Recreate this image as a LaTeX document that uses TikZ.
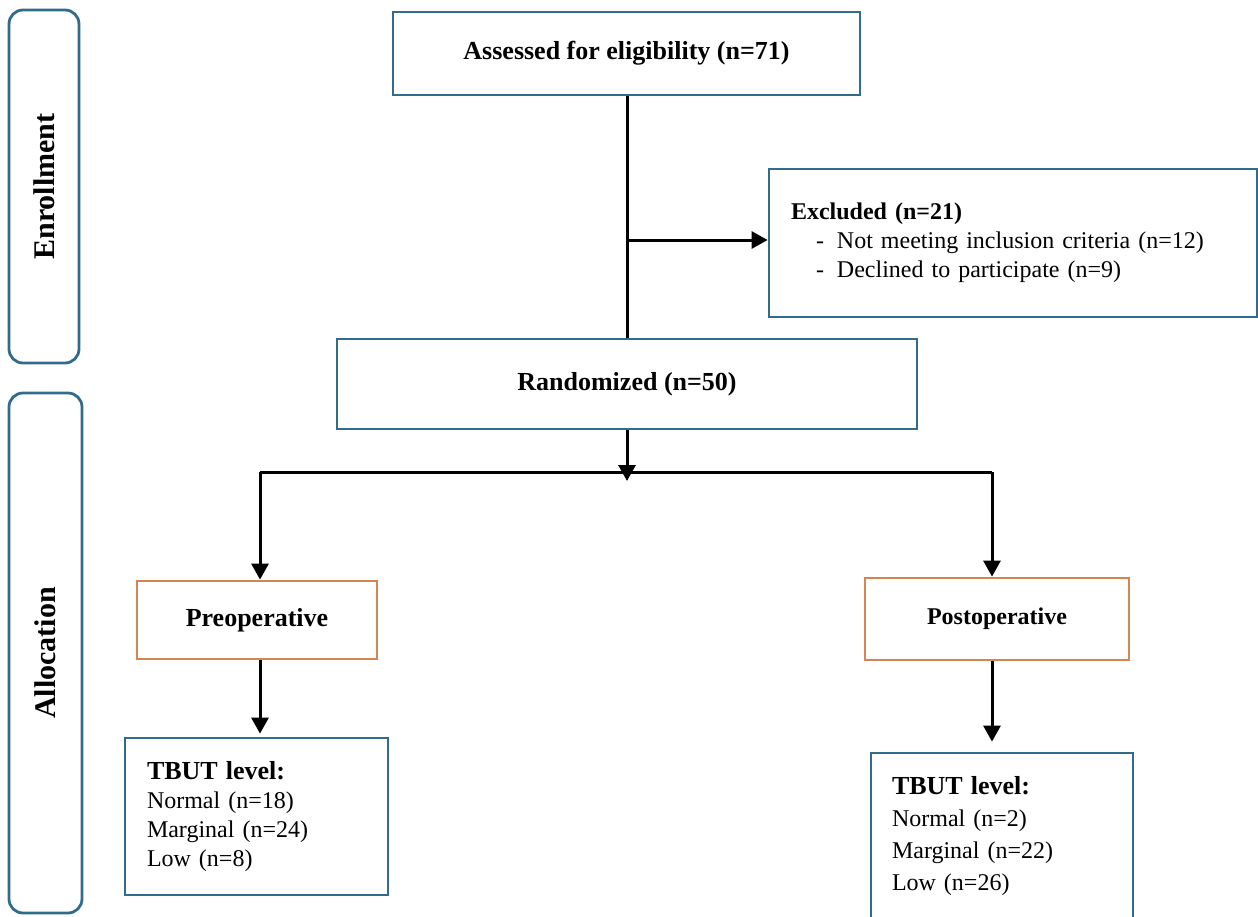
\documentclass[tikz,border=0pt]{standalone}
\usepackage{fontspec}
\setmainfont{Liberation Serif}
\usetikzlibrary{arrows.meta}
\definecolor{boxblue}{RGB}{49,108,140}
\definecolor{boxorange}{RGB}{214,132,82}

\begin{document}
\begin{tikzpicture}[x=1pt,y=-1pt,
  box/.style={draw=boxblue,line width=2.8pt,align=center,inner sep=0pt},
  armbox/.style={draw=boxorange,line width=2.8pt,align=center,inner sep=0pt},
  phase/.style={draw=boxblue,line width=2.8pt,rounded corners=14pt,inner sep=0pt,rotate=90,font=\fontsize{30}{36}\selectfont\bfseries},
  line/.style={line width=3pt},
  arr/.style={line width=3pt,-{Triangle[length=16pt,width=17pt]}},
  big/.style={font=\fontsize{26}{31}\selectfont\bfseries},
  small/.style={font=\fontsize{24}{29}\selectfont}]
  \useasboundingbox (0,0) rectangle (1258,916);
  \clip (0,0) rectangle (1258,916);
  \node[phase,minimum width=353pt,minimum height=70pt] (enroll) at (44,186.5) {Enrollment};
  \node[phase,minimum width=520pt,minimum height=73pt] (alloc) at (45.5,653) {Allocation};
  \node[box,big,minimum width=467pt,minimum height=83pt] (assess) at (626.5,53.5) {Assessed for eligibility (n=71)};
  \node[box,small,minimum width=488pt,minimum height=148pt,text width=444pt,align=left] (excl) at (1013,243)
    {{\bfseries Excluded (n=21)}\\
     \hspace*{25pt}-\hspace{13pt}Not meeting inclusion criteria (n=12)\\
     \hspace*{25pt}-\hspace{13pt}Declined to participate (n=9)};
  \node[box,big,minimum width=580pt,minimum height=90pt] (rand) at (627,384) {Randomized (n=50)};
  \node[armbox,big,minimum width=240pt,minimum height=78pt] (preop) at (257,620) {Preoperative};
  \node[armbox,font=\fontsize{24}{29}\selectfont\bfseries,minimum width=264pt,minimum height=82pt] (postop) at (997,619) {Postoperative};
  \node[box,small,minimum width=263pt,minimum height=157pt,text width=219pt,align=left] (tbut1) at (256.5,816.5)
    {{\fontsize{26}{29}\selectfont\bfseries TBUT level:}\\
     Normal (n=18)\\
     Marginal (n=24)\\
     Low (n=8)};
  \node[box,font=\fontsize{24}{32}\selectfont,minimum width=262pt,minimum height=166pt,text width=220pt,align=left] (tbut2) at (1002,836)
    {{\fontsize{26}{32}\selectfont\bfseries TBUT level:}\\
     Normal (n=2)\\
     Marginal (n=22)\\
     Low (n=26)};
  \coordinate (split) at (627,240);
  \coordinate (jM) at (627,472);
  \coordinate (jL) at (260,472);
  \coordinate (jR) at (992,472);
  \draw[line] (assess.south -| split) -- (rand.north -| split);
  \draw[arr] (split) -- (excl.west |- split);
  \draw[line] (jL) -- (jR);
  \draw[arr,shorten >=-9pt] (rand.south -| jM) -- (jM);
  \draw[arr] (jL) -- (jL |- preop.north);
  \draw[arr] (jR) -- (jR |- postop.north);
  \draw[arr,shorten >=3pt] (preop.south -| jL) -- (tbut1.north -| jL);
  \draw[arr,shorten >=10pt] (postop.south -| jR) -- (tbut2.north -| jR);
\end{tikzpicture}
\end{document}
